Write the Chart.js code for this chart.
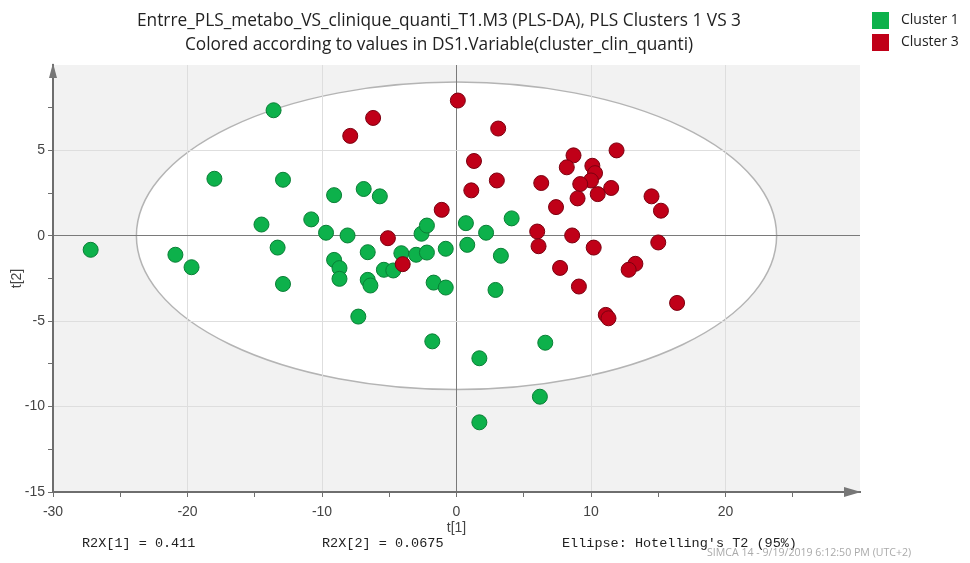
<!DOCTYPE html>
<html>
<head>
    <title>PLS-DA scores t[1] / t[2]</title>
    <style>
        body {
            margin: 0;
            background-color: white;
            font-family: "Open Sans", "Noto Sans", Arial, sans-serif;
        }
        .wrap {
            position: relative;
            width: 970px;
            height: 563px;
            overflow: hidden;
        }
        canvas {
            position: absolute;
            left: 0;
            top: 0;
        }
        .title {
            position: absolute;
            left: 0;
            width: 878px;
            text-align: center;
            font-size: 17.3px;
            color: #222;
            white-space: nowrap;
        }
        .legend {
            position: absolute;
            left: 872px;
            font-size: 14px;
            color: #222;
            white-space: nowrap;
        }
        .legend span {
            display: inline-block;
            width: 17px;
            height: 17px;
            vertical-align: middle;
            margin-right: 12px;
        }
        .foot {
            position: absolute;
            top: 536px;
            font-family: "Liberation Mono", "DejaVu Sans Mono", monospace;
            font-size: 13.5px;
            color: #222;
            white-space: nowrap;
        }
        .stamp {
            position: absolute;
            left: 707px;
            top: 545px;
            font-size: 10.6px;
            color: #aaa;
            white-space: nowrap;
        }
    </style>
</head>
<body>
<div class="wrap">
    <canvas id="scoreChart" width="970" height="563"></canvas>

    <div class="title" style="top:8px;">Entrre_PLS_metabo_VS_clinique_quanti_T1.M3 (PLS-DA), PLS Clusters 1 VS 3</div>
    <div class="title" style="top:32px;">Colored according to values in DS1.Variable(cluster_clin_quanti)</div>

    <div class="legend" style="top:9px;"><span style="background:#0db14b;"></span>Cluster 1</div>
    <div class="legend" style="top:31px;"><span style="background:#c00018;"></span>Cluster 3</div>

    <div class="foot" style="left:82px;">R2X[1] = 0.411</div>
    <div class="foot" style="left:322px;">R2X[2] = 0.0675</div>
    <div class="foot" style="left:562px;">Ellipse: Hotelling's T2 (95%)</div>
    <div class="stamp">SIMCA 14 - 9/19/2019 6:12:50 PM (UTC+2)</div>
</div>

<script src="https://cdn.jsdelivr.net/npm/chart.js"></script>
<script>
// scores
const cluster1T1 = [-27.2, -20.9, -19.7, -13.6, -18.0, -12.9, -14.5, -13.3, -12.9, -10.8,
    -9.1, -6.9, -5.7, -9.7, -8.1, -9.1, -8.7, -8.7, -6.6, -6.6,
    -6.4, -5.4, -4.7, -4.1, -3.0, -2.2, -2.6, -2.2, -0.8, -1.7,
    -0.8, 0.7, 0.8, 2.2, 2.9, 3.3, -7.3, 4.1, -1.8, 1.7,
    6.6, 6.2, 1.7];
const cluster1T2 = [-0.82, -1.11, -1.84, 7.35, 3.34, 3.28, 0.66, -0.69, -2.82, 0.96,
    2.38, 2.74, 2.31, 0.18, 0.02, -1.41, -1.89, -2.52, -0.96, -2.58,
    -2.91, -1.99, -2.03, -1.02, -1.11, -0.98, 0.12, 0.60, -0.76, -2.74,
    -3.03, 0.74, -0.53, 0.18, -3.17, -1.17, -4.73, 1.02, -6.18, -7.17,
    -6.26, -9.42, -10.92];

const cluster3T1 = [0.1, -6.2, -7.9, 1.3, 1.1, -1.1, -5.1, -4.0, 3.1, 3.0,
    6.3, 8.7, 8.2, 10.1, 10.3, 10.0, 9.2, 11.9, 11.5, 10.5,
    9.0, 7.4, 14.5, 15.2, 6.0, 6.1, 8.6, 10.2, 15.0, 7.7,
    13.3, 12.8, 9.1, 16.4, 11.1, 11.3];
const cluster3T2 = [7.92, 6.90, 5.85, 4.38, 2.66, 1.52, -0.14, -1.66, 6.28, 3.24,
    3.09, 4.71, 4.01, 4.10, 3.67, 3.24, 3.03, 5.00, 2.80, 2.44,
    2.19, 1.68, 2.31, 1.47, 0.25, -0.61, 0.02, -0.69, -0.39, -1.88,
    -1.64, -1.99, -2.97, -3.93, -4.63, -4.83];

// Hotelling's T2 (95%) ellipse semi-axes
const ellipseT1 = 23.8;
const ellipseT2 = 9.0;

const xTickLabels = [-30, -20, -10, 0, 10, 20];
const yTickLabels = [-15, -10, -5, 0, 5];

function toPoints(xs, ys) {
    return xs.map((x, i) => ({ x: x, y: ys[i] }));
}

// grey plot area, white ellipse, axis arrows
const plotDecor = {
    id: 'plotDecor',
    beforeDraw(chart) {
        const { ctx, chartArea: a, scales } = chart;
        ctx.save();
        ctx.fillStyle = '#f2f2f2';
        ctx.fillRect(a.left, a.top, a.right - a.left, a.bottom - a.top);
        const cx = scales.x.getPixelForValue(0);
        const cy = scales.y.getPixelForValue(0);
        const rx = scales.x.getPixelForValue(ellipseT1) - cx;
        const ry = cy - scales.y.getPixelForValue(ellipseT2);
        ctx.beginPath();
        ctx.ellipse(cx, cy, rx, ry, 0, 0, Math.PI * 2);
        ctx.fillStyle = 'white';
        ctx.fill();
        ctx.lineWidth = 1.5;
        ctx.strokeStyle = '#b4b4b4';
        ctx.stroke();
        ctx.restore();
    },
    afterDraw(chart) {
        const { ctx, chartArea: a } = chart;
        ctx.save();
        ctx.fillStyle = '#777';
        ctx.beginPath();
        ctx.moveTo(a.left, a.top - 2);
        ctx.lineTo(a.left - 4, a.top + 13);
        ctx.lineTo(a.left + 4, a.top + 13);
        ctx.closePath();
        ctx.fill();
        ctx.beginPath();
        ctx.moveTo(a.right + 1, a.bottom);
        ctx.lineTo(a.right - 16, a.bottom - 5);
        ctx.lineTo(a.right - 16, a.bottom + 5);
        ctx.closePath();
        ctx.fill();
        ctx.restore();
    }
};

function gridColor(labels, lo, hi) {
    return (c) => {
        const v = c.tick.value;
        if (v === 0) return '#7a7a7a';
        if (v === lo || v === hi) return 'rgba(0,0,0,0)';
        return labels.includes(v) ? '#dedede' : 'rgba(0,0,0,0)';
    };
}

new Chart(document.getElementById('scoreChart').getContext('2d'), {
    type: 'scatter',
    data: {
        datasets: [
            {
                label: 'Cluster 3',
                data: toPoints(cluster3T1, cluster3T2),
                backgroundColor: '#c00018',
                borderColor: '#7c0010',
                borderWidth: 1,
                pointRadius: 7.5,
                pointHoverRadius: 7.5
            },
            {
                label: 'Cluster 1',
                data: toPoints(cluster1T1, cluster1T2),
                backgroundColor: '#0db14b',
                borderColor: '#0a7f36',
                borderWidth: 1,
                pointRadius: 7.5,
                pointHoverRadius: 7.5
            }
        ]
    },
    options: {
        responsive: false,
        animation: false,
        devicePixelRatio: 1,
        layout: { padding: { left: 0, right: 110, top: 65, bottom: 21 } },
        plugins: {
            legend: { display: false },
            tooltip: { enabled: false }
        },
        scales: {
            x: {
                type: 'linear',
                min: -30,
                max: 30,
                afterFit(s) { s.height = 50; },
                border: { color: '#6e6e6e', width: 2 },
                grid: {
                    color: gridColor(xTickLabels, -30, 30),
                    tickColor: (c) => c.tick.value === 30 ? 'rgba(0,0,0,0)' : '#6e6e6e',
                    tickLength: 5
                },
                ticks: {
                    stepSize: 5,
                    autoSkip: false,
                    maxRotation: 0,
                    padding: 7,
                    color: '#444',
                    font: { size: 14 },
                    callback: (v) => xTickLabels.includes(v) ? String(v) : ''
                },
                title: {
                    display: true,
                    text: 't[1]',
                    color: '#444',
                    font: { size: 14 },
                    padding: { top: 0, bottom: 5 }
                }
            },
            y: {
                type: 'linear',
                min: -15,
                max: 10,
                afterFit(s) { s.width = 53; },
                border: { color: '#6e6e6e', width: 2 },
                grid: {
                    color: gridColor(yTickLabels, -15, 10),
                    tickColor: (c) => c.tick.value === 10 ? 'rgba(0,0,0,0)' : '#6e6e6e',
                    tickLength: 5
                },
                ticks: {
                    stepSize: 2.5,
                    autoSkip: false,
                    padding: 3,
                    color: '#444',
                    font: { size: 14 },
                    callback: (v) => yTickLabels.includes(v) ? String(v) : ''
                },
                title: {
                    display: true,
                    text: 't[2]',
                    color: '#444',
                    font: { size: 14 },
                    padding: { top: 9, bottom: 0 }
                }
            }
        }
    },
    plugins: [plotDecor]
});
</script>
</body>
</html>
